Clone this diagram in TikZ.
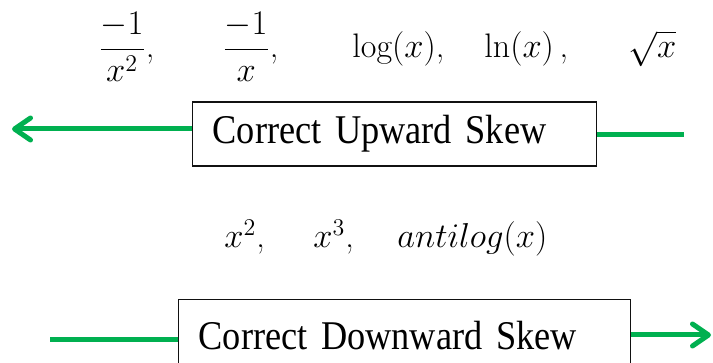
\documentclass[tikz,border=0pt]{standalone}
\usepackage{amsmath}
\usepackage{fontspec}
\usetikzlibrary{arrows.meta,positioning}
\newfontfamily\skewfont[FakeStretch=0.89]{Liberation Serif}
\definecolor{Ink}{HTML}{111111}
\definecolor{Leaf}{HTML}{00B050}
\tikzset{
  skewbx/.style={rectangle,draw=Ink,line width=0.65pt,fill=white,text=black,
                 font=\skewfont\fontsize{20.4}{24}\selectfont,align=left,inner xsep=10pt,inner ysep=0pt},
  fn/.style={font=\fontsize{17}{20}\selectfont,anchor=base west,inner sep=0pt},
  rail/.style={draw=Leaf,line width=2.5pt},
  pointer/.style={rail,-{Straight Barb[length=8pt,width=11pt,round]}},
}
\begin{document}
\begin{tikzpicture}[x=0.5pt,y=-0.5pt]
% Pixel grid of the reference, y running down.
\useasboundingbox (0,0) rectangle (713,363);
\clip (0,0) rectangle (713,363);
% Transformations that pull a long upper tail in.
\node[fn] (f1) at (98,58) {$\dfrac{-1}{x^2}$,};
\node[fn] (f2) at (222,58) {$\dfrac{-1}{x}$,};
\node[fn] (f3) at (352,58) {$\log(x)$,};
\node[fn] (f4) at (484,58) {$\ln(x)$\,,};
\node[fn] (f5) at (628,58) {$\sqrt{x}$};
\node[skewbx,anchor=west,text width=182pt,minimum height=32pt] (up) at (192,134) {Correct Upward Skew};
% Transformations that stretch a long lower tail out.
\node[fn] (g1) at (224,248) {$x^2$,};
\node[fn] (g2) at (313,248) {$x^3$,};
\node[fn] (g3) at (397,248) {$antilog(x)$};
\node[skewbx,anchor=north west,text width=206pt,minimum height=36pt] (dn) at (178,299) {Correct Downward Skew};
\coordinate (upl) at (12,129); \coordinate (upr) at (684,135);
\coordinate (dnl) at (50,340); \coordinate (dnr) at (711,335);
\draw[pointer] (up.west |- upl) -- (upl);
\draw[rail] (up.east |- upr) -- (upr);
\draw[rail] (dnl) -- (dn.west |- dnl);
\draw[pointer] (dn.east |- dnr) -- (dnr);
\end{tikzpicture}
\end{document}
